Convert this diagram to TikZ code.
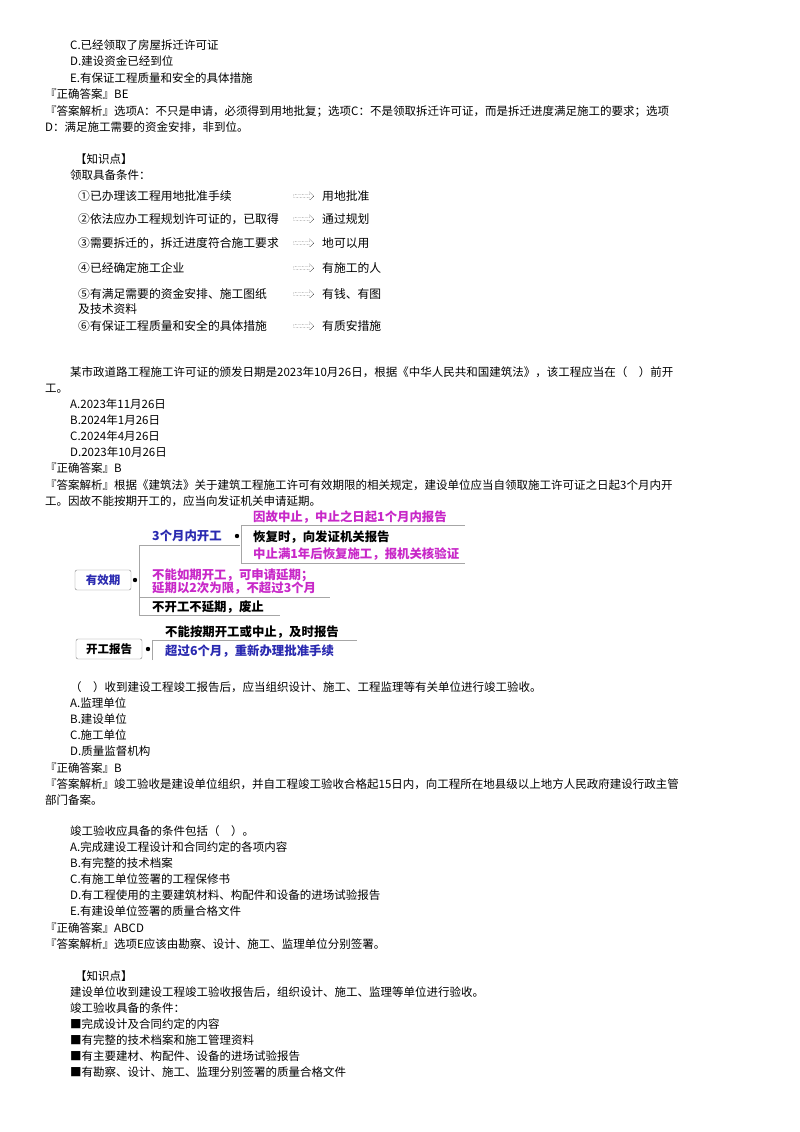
\documentclass[tikz,border=0pt]{standalone}
\usepackage{fontspec}
\setmainfont{Noto Sans CJK SC}
\usetikzlibrary{shapes.arrows}
\definecolor{kblue}{HTML}{2A2AB0}
\definecolor{kmag}{HTML}{C828C8}
\begin{document}
\begin{tikzpicture}[x=1pt,y=-1pt,
    every node/.style={anchor=base west,inner sep=0pt,font=\fontsize{11.5}{13}\selectfont},
    small/.style={font=\fontsize{11.8}{13}\selectfont},
    big/.style={font=\fontsize{12.4}{14}\selectfont\bfseries},
    arr/.style={shape=single arrow,draw,densely dotted,minimum height=20pt,minimum width=8pt,single arrow head extend=2pt,inner sep=1pt,anchor=center},
    tag/.style={draw=gray,rounded corners=2pt,minimum width=56pt,minimum height=20pt,anchor=center,inner sep=2pt},
    bar/.style={draw=gray!70,line width=0.8pt}]
\useasboundingbox (0,0) rectangle (800,1132);
% question 1 tail
\node (t1) at (70,50) {C.已经领取了房屋拆迁许可证};
\node (t2) at (70,66) {D.建设资金已经到位};
\node (t3) at (70,82) {E.有保证工程质量和安全的具体措施};
\node (t4) at (45,99) {『正确答案』BE};
\node (t5) at (45,115) {『答案解析』选项A：不只是申请，必须得到用地批复；选项C：不是领取拆迁许可证，而是拆迁进度满足施工的要求；选项};
\node (t6) at (45,131) {D：满足施工需要的资金安排，非到位。};
\node (t7) at (75,163) {【知识点】};
\node (t8) at (70,179) {领取具备条件：};
% conditions
\foreach \y/\a/\b [count=\i] in {200/{①已办理该工程用地批准手续}/用地批准,
    223/{②依法应办工程规划许可证的，已取得}/通过规划,
    247/{③需要拆迁的，拆迁进度符合施工要求}/地可以用,
    272/{④已经确定施工企业}/有施工的人,
    298/{⑤有满足需要的资金安排、施工图纸}/{有钱、有图},
    330/{⑥有保证工程质量和安全的具体措施}/有质安措施}{
  \node[small] (c\i) at (78,\y) {\a};
  \node[arr] (a\i) at (303,\y-4) {};
  \node[small] (r\i) at (322,\y) {\b};
}
\node[small] (c5b) at (78,313) {及技术资料};
% question 2
\node (q1) at (70,376) {某市政道路工程施工许可证的颁发日期是2023年10月26日，根据《中华人民共和国建筑法》，该工程应当在（　）前开};
\node (q2) at (45,392) {工。};
\node (q3) at (70,408) {A.2023年11月26日};
\node (q4) at (70,424) {B.2024年1月26日};
\node (q5) at (70,440) {C.2024年4月26日};
\node (q6) at (70,456) {D.2023年10月26日};
\node (q7) at (45,472) {『正确答案』B};
\node (q8) at (45,489) {『答案解析』根据《建筑法》关于建筑工程施工许可有效期限的相关规定，建设单位应当自领取施工许可证之日起3个月内开};
\node (q9) at (45,505) {工。因故不能按期开工的，应当向发证机关申请延期。};
% validity map
\node[tag] (yx) at (103,580) {\textcolor{kblue}{\bfseries 有效期}};
\node[big,text=kblue] (m3) at (152,540) {3个月内开工};
\node[big,text=kmag] (s1) at (253,521) {因故中止，中止之日起1个月内报告};
\node[big] (s2) at (253,541) {恢复时，向发证机关报告};
\node[big,text=kmag] (s3) at (253,558) {中止满1年后恢复施工，报机关核验证};
\node[big,text=kmag] (s4) at (152,579) {不能如期开工，可申请延期；};
\node[big,text=kmag] (s5) at (152,592) {延期以2次为限，不超过3个月};
\node[big] (s6) at (152,611) {不开工不延期，废止};
\fill (237,536) circle (2.2pt) (135,580) circle (2.2pt);
\draw[bar] (465,525) -- (241,525) -- (241,563) -- (465,563);
\draw[bar] (139,615) -- (139,545) -- (240,545);
\draw[bar] (139,597) -- (330,597);
\draw[bar] (139,615) -- (280,615);
\node[tag,minimum width=66pt] (kg) at (109,649) {\bfseries 开工报告};
\fill (148,649) circle (2.2pt);
\node[big] (s7) at (165,636) {不能按期开工或中止，及时报告};
\node[big,text=kblue] (s8) at (165,655) {超过6个月，重新办理批准手续};
\draw[bar] (152,660) -- (152,640) -- (357,640);
% question 3
\node (w1) at (70,691) {（　）收到建设工程竣工报告后，应当组织设计、施工、工程监理等有关单位进行竣工验收。};
\node (w2) at (70,707) {A.监理单位};
\node (w3) at (70,723) {B.建设单位};
\node (w4) at (70,739) {C.施工单位};
\node (w5) at (70,755) {D.质量监督机构};
\node (w6) at (45,772) {『正确答案』B};
\node (w7) at (45,788) {『答案解析』竣工验收是建设单位组织，并自工程竣工验收合格起15日内，向工程所在地县级以上地方人民政府建设行政主管};
\node (w8) at (45,804) {部门备案。};
% question 4
\node (e1) at (70,835) {竣工验收应具备的条件包括（　）。};
\node (e2) at (70,851) {A.完成建设工程设计和合同约定的各项内容};
\node (e3) at (70,867) {B.有完整的技术档案};
\node (e4) at (70,883) {C.有施工单位签署的工程保修书};
\node (e5) at (70,899) {D.有工程使用的主要建筑材料、构配件和设备的进场试验报告};
\node (e6) at (70,915) {E.有建设单位签署的质量合格文件};
\node (e7) at (45,932) {『正确答案』ABCD};
\node (e8) at (45,948) {『答案解析』选项E应该由勘察、设计、施工、监理单位分别签署。};
\node (e9) at (75,980) {【知识点】};
\node (k1) at (70,996) {建设单位收到建设工程竣工验收报告后，组织设计、施工、监理等单位进行验收。};
\node (k2) at (70,1012) {竣工验收具备的条件：};
\node (k3) at (70,1028) {■完成设计及合同约定的内容};
\node (k4) at (70,1044) {■有完整的技术档案和施工管理资料};
\node (k5) at (70,1060) {■有主要建材、构配件、设备的进场试验报告};
\node (k6) at (70,1076) {■有勘察、设计、施工、监理分别签署的质量合格文件};
\end{tikzpicture}
\end{document}
